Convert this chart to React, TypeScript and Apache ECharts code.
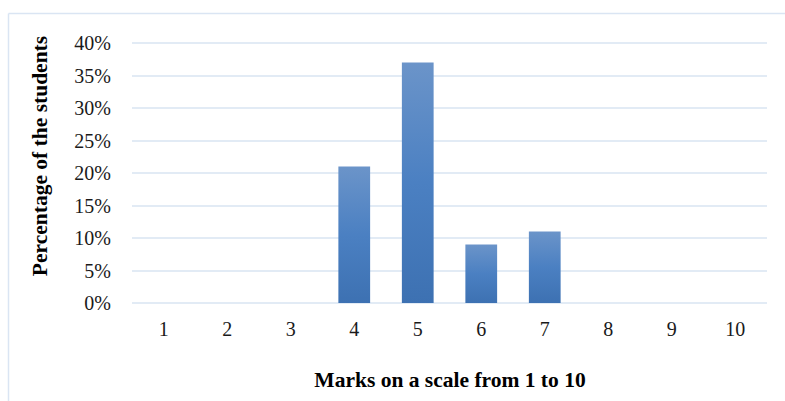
import React, { useEffect, useRef } from "react";
import * as echarts from "echarts";

const categories = ["1", "2", "3", "4", "5", "6", "7", "8", "9", "10"];
const percentages = [0, 0, 0, 21, 37, 9, 11, 0, 0, 0];
const yTicks = { min: 0, max: 40, interval: 5 };
const xTitle = "Marks on a scale from 1 to 10";
const yTitle = "Percentage of the students";

const FONT = "'Liberation Serif', 'Times New Roman', serif";

export default function App() {
  const ref = useRef<HTMLDivElement>(null);
  useEffect(() => {
    if (!ref.current) return;
    const chart = echarts.init(ref.current, undefined, { renderer: "svg" });
    chart.setOption({
      animation: false,
      backgroundColor: "#ffffff",
      grid: { left: 132, right: 18, top: 43, bottom: 98 },
      xAxis: {
        type: "category",
        data: categories,
        axisLine: { show: false },
        axisTick: { show: false },
        axisLabel: { color: "#1a1a1a", fontFamily: FONT, fontSize: 20, margin: 16 },
      },
      yAxis: {
        type: "value",
        min: yTicks.min,
        max: yTicks.max,
        interval: yTicks.interval,
        axisLine: { show: false },
        axisTick: { show: false },
        axisLabel: {
          color: "#1a1a1a",
          fontFamily: FONT,
          fontSize: 20,
          margin: 21,
          formatter: (v: number) => v + "%",
        },
        splitLine: { lineStyle: { color: "#d9e4f2", width: 1.5 } },
      },
      series: [
        {
          type: "bar",
          data: percentages,
          barWidth: "50%",
          itemStyle: {
            color: new echarts.graphic.LinearGradient(0, 0, 0, 1, [
              { offset: 0, color: "#6b94c9" },
              { offset: 0.5, color: "#4b80c2" },
              { offset: 1, color: "#3d71b2" },
            ]),
          },
        },
      ],
      graphic: [
        {
          type: "line",
          shape: { x1: 8.5, y1: 13.5, x2: 785, y2: 13.5 },
          style: { stroke: "#dae5f3", lineWidth: 1.5 },
        },
        {
          type: "line",
          shape: { x1: 8.5, y1: 13.5, x2: 8.5, y2: 401 },
          style: { stroke: "#dae5f3", lineWidth: 1.5 },
        },
        {
          type: "text",
          x: 40,
          y: 156,
          rotation: Math.PI / 2,
          style: {
            text: yTitle,
            fontFamily: FONT,
            fontSize: 21.5,
            fontWeight: "bold",
            fill: "#000",
            textAlign: "center",
            textVerticalAlign: "middle",
          },
        },
        {
          type: "text",
          x: 450,
          y: 380,
          style: {
            text: xTitle,
            fontFamily: FONT,
            fontSize: 21.5,
            fontWeight: "bold",
            fill: "#000",
            textAlign: "center",
            textVerticalAlign: "middle",
          },
        },
      ],
    });
    return () => chart.dispose();
  }, []);
  return (
    <div
      ref={ref}
      style={{ position: "fixed", left: 0, top: 0, width: 785, height: 401 }}
    />
  );
}
